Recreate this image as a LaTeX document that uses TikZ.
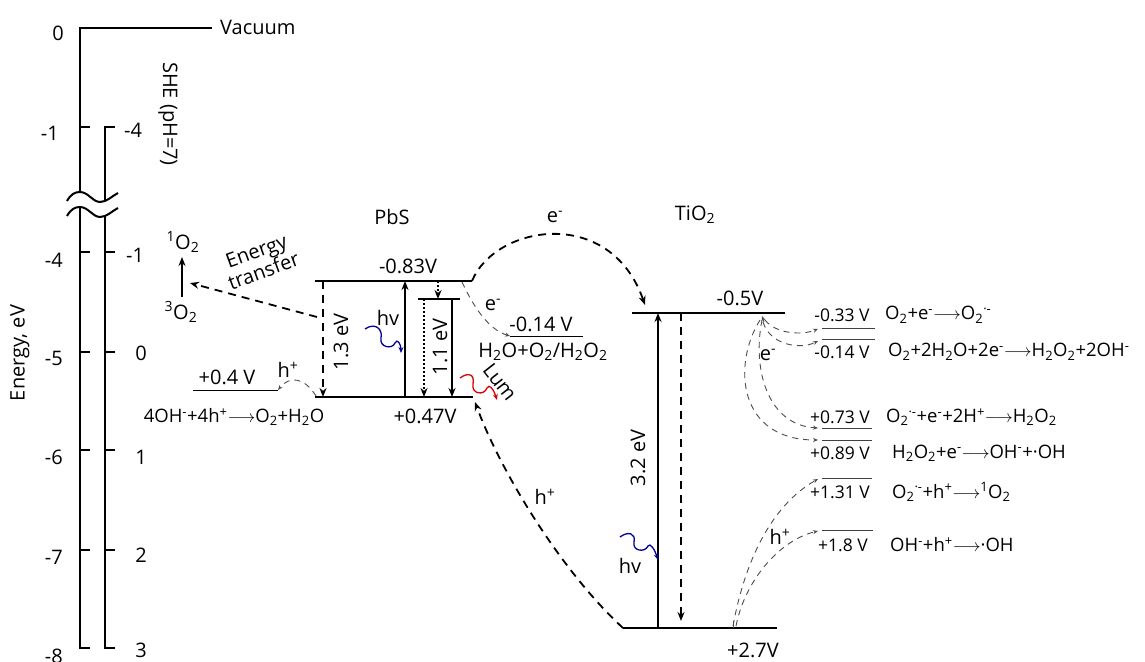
\documentclass[tikz,border=0pt]{standalone}
\usepackage{fontspec}
\setmainfont{Open Sans}
\usetikzlibrary{arrows.meta}
\newcommand{\sbs}[1]{\textsubscript{#1}}
\newcommand{\sps}[1]{\textsuperscript{#1}}
\newcommand{\rarr}{\ensuremath{\longrightarrow}}
\begin{document}
\begin{tikzpicture}[x=1pt,y=-1pt,
  every node/.style={inner sep=0pt, font=\fontsize{20}{20}\selectfont},
  small/.style={font=\fontsize{17.5}{18}\selectfont},
  rxn/.style={font=\fontsize{18.5}{19}\selectfont, anchor=west},
  axisln/.style={line width=2.6pt},
  brk/.style={line width=2pt},
  lvl/.style={line width=2pt},
  thinlvl/.style={line width=1pt, black!75},
  solidarr/.style={line width=1.8pt, -{Stealth[length=9pt,width=7pt]}},
  dasharr/.style={line width=1.8pt, dash pattern=on 8pt off 6pt, -{Stealth[length=9pt,width=7pt]}},
  dotarr/.style={line width=1.6pt, dash pattern=on 2pt off 2pt, -{Stealth[length=9pt,width=7pt]}},
  thindash/.style={line width=0.9pt, black!70, dash pattern=on 6pt off 5pt, -{Stealth[length=5pt,width=4pt]}},
  photon/.style={line width=1.3pt, -{Stealth[length=6pt,width=5pt]}},
]
\useasboundingbox (0,0) rectangle (1145,661);

% ---------------- axes ----------------
\draw[axisln] (212,28) -- (80,28) -- (80,192);
\draw[axisln] (115,127) -- (105,127) -- (105,201);
\draw[brk] (67,201) .. controls (71,194) and (75,192) .. (80,192) .. controls (88,192) and (93,202) .. (100,202) .. controls (107,202) and (112,196) .. (118,193);
\draw[brk] (67,216) .. controls (71,209) and (75,207) .. (80,207) .. controls (88,207) and (93,217) .. (100,217) .. controls (107,217) and (112,211) .. (118,208);
\draw[axisln] (80,207) -- (80,648) -- (90,648);
\draw[axisln] (105,216) -- (105,648) -- (115,648);
\foreach \yy in {127,252,352,450,550} \draw[axisln] (80,\yy) -- (90,\yy);
\foreach \yy in {252,352,450,550} \draw[axisln] (105,\yy) -- (115,\yy);

\node[anchor=west] (vac) at (220,27) {Vacuum};
\node[anchor=east] (l0) at (64,33) {0};
\node[anchor=east] (l1) at (59,133) {-1};
\node[anchor=east] (l4) at (63,260) {-4};
\node[anchor=east] (l5) at (63,358) {-5};
\node[anchor=east] (l6) at (63,457) {-6};
\node[anchor=east] (l7) at (63,557) {-7};
\node[anchor=east] (l8) at (63,656) {-8};
\node[anchor=west] (r4) at (124,130) {-4};
\node[anchor=west] (r1) at (126,255) {-1};
\node (r0) at (141,353) {0};
\node (rp1) at (141,457) {1};
\node (rp2) at (141,555) {2};
\node (rp3) at (141,650) {3};
\node[rotate=90] (elab) at (20,353) {Energy, eV};
\node[rotate=-90] (she) at (168,114) {SHE (pH=7)};

% ---------------- PbS ----------------
\node (pbs) at (392,217) {PbS};
\coordinate (pCBL) at (315,281); \coordinate (pCBR) at (472,281);
\coordinate (pVBL) at (315,397); \coordinate (pVBR) at (473,397);
\coordinate (pTL) at (418,299);  \coordinate (pTR) at (460,299);
\draw[lvl] (pCBL) -- (pCBR);
\draw[lvl] (pVBL) -- (pVBR);
\draw[lvl] (pTL) -- (pTR);
\node (v083) at (408,266) {-0.83V};
\node (v047) at (425,416) {+0.47V};

\coordinate (a13t) at (323,281); \coordinate (a13b) at (323,397);
\draw[dasharr] (a13t) -- (a13b);
\node[rotate=90] (e13) at (341,342) {1.3 eV};
\coordinate (hvb) at (405,397); \coordinate (hvt) at (405,281);
\draw[solidarr] (hvb) -- (hvt);
\node (hv1) at (388,318) {hv};
\draw[photon, blue!60!black] (365,329) .. controls (375,322) and (383,329) .. (381,338) .. controls (379,347) and (392,350) .. (395,343) .. controls (397,338) and (401,344) .. (401,353);
\coordinate (dt1) at (438,281); \coordinate (db1) at (438,299);
\draw[dotarr] (dt1) -- (db1);
\coordinate (dt2) at (424,299); \coordinate (db2) at (424,397);
\draw[dotarr] (dt2) -- (db2);
\node[rotate=90] (e11) at (440,347) {1.1 eV};
\coordinate (st2) at (452,299); \coordinate (sb2) at (452,397);
\draw[solidarr] (st2) -- (sb2);
\draw[photon, red!85!black] (460,378) .. controls (468,372) and (475,374) .. (473,384) .. controls (471,394) and (484,396) .. (487,388) .. controls (489,383) and (494,390) .. (497,400);
\node[rotate=-52] (lum) at (500,382) {Lum};

% energy transfer
\coordinate (etS) at (317,317); \coordinate (etE) at (190,283);
\draw[dasharr] (etS) -- (etE);
\node[rotate=20, align=center, font=\fontsize{20}{18}\selectfont] (etr) at (260,261) {Energy\\transfer};
\node (o1) at (183,242) {\sps{1}O\sbs{2}};
\node (o3) at (181,312) {\sps{3}O\sbs{2}};
\coordinate (o3t) at (182,297); \coordinate (o1b) at (182,257);
\draw[solidarr] (o3t) -- (o1b);

% left h+ (water oxidation)
\coordinate (p04L) at (193,390); \coordinate (p04R) at (278,390);
\draw[line width=1pt] (p04L) -- (p04R);
\node (v04) at (227,377) {+0.4 V};
\node (hp1) at (288,370) {h\sps{+}};
\draw[thindash] (316,396) .. controls (305,378) and (290,375) .. (p04R);
\node[font=\fontsize{18.5}{19}\selectfont] (rx1) at (234,417) {4OH\sps{-}+4h\sps{+}\rarr O\sbs{2}+H\sbs{2}O};

% right e- (PbS CB to -0.14 V)
\coordinate (p014L) at (510,336); \coordinate (p014R) at (583,336);
\draw[line width=1pt] (p014L) -- (p014R);
\draw[thindash] (462,282) .. controls (475,310) and (490,330) .. (p014L);
\node (em1) at (493,305) {e\sps{-}};
\node (v014) at (541,324) {-0.14 V};
\node (hoo) at (543,352) {H\sbs{2}O+O\sbs{2}/H\sbs{2}O\sbs{2}};

% ---------------- TiO2 ----------------
\node (tio) at (695,215) {TiO\sbs{2}};
\coordinate (tCBL) at (632,313); \coordinate (tCBR) at (785,313);
\coordinate (tVBL) at (623,628); \coordinate (tVBR) at (777,628);
\draw[lvl, line width=2.3pt] (tCBL) -- (tCBR);
\draw[lvl, line width=2.3pt] (tVBL) -- (tVBR);
\node (v05) at (740,298) {-0.5V};
\node (v27) at (753,650) {+2.7V};
\coordinate (tub) at (658,628); \coordinate (tut) at (658,313);
\draw[solidarr] (tub) -- (tut);
\coordinate (tdt) at (681,313); \coordinate (tdb) at (681,621);
\draw[dasharr] (tdt) -- (tdb);
\node[rotate=90] (e32) at (638,458) {3.2 eV};
\draw[photon, blue!60!black] (620,537) .. controls (628,531) and (636,533) .. (634,542) .. controls (632,551) and (645,553) .. (648,546) .. controls (650,542) and (655,550) .. (658,560);
\node (hv2) at (630,566) {hv};

% transfers between PbS and TiO2
\draw[dasharr] (pCBR) .. controls (495,225) and (610,205) .. (645,305);
\node (em2) at (555,217) {e\sps{-}};
\draw[dasharr] (tVBL) .. controls (560,570) and (500,470) .. (475,402);
\node (hp2) at (545,497) {h\sps{+}};

% ---------------- right-hand levels ----------------
\coordinate (r1L) at (822,328); \coordinate (r1R) at (875,328);
\coordinate (r2L) at (822,339); \coordinate (r2R) at (875,339);
\coordinate (r3L) at (822,428); \coordinate (r3R) at (872,428);
\coordinate (r4L) at (822,440); \coordinate (r4R) at (872,440);
\coordinate (r5L) at (822,478); \coordinate (r5R) at (872,478);
\coordinate (r6L) at (822,530); \coordinate (r6R) at (873,530);
\foreach \a/\b in {r1L/r1R,r2L/r2R,r3L/r3R,r4L/r4R,r5L/r5R,r6L/r6R} \draw[thinlvl] (\a) -- (\b);

\node[small] (w1) at (842,315) {-0.33 V};
\node[small] (w2) at (842,352) {-0.14 V};
\node[small] (w3) at (840,417) {+0.73 V};
\node[small] (w4) at (840,453) {+0.89 V};
\node[small] (w5) at (840,492) {+1.31 V};
\node[small] (w6) at (843,545) {+1.8 V};

\node[rxn] (x1) at (885,315) {O\sbs{2}+e\sps{-}\rarr O\sbs{2}\sps{·-}};
\node[rxn] (x2) at (888,352) {O\sbs{2}+2H\sbs{2}O+2e\sps{-}\rarr H\sbs{2}O\sbs{2}+2OH\sps{-}};
\node[rxn] (x3) at (886,417) {O\sbs{2}\sps{·-}+e\sps{-}+2H\sps{+}\rarr H\sbs{2}O\sbs{2}};
\node[rxn] (x4) at (892,453) {H\sbs{2}O\sbs{2}+e\sps{-}\rarr OH\sps{-}+·OH};
\node[rxn] (x5) at (892,492) {O\sbs{2}\sps{·-}+h\sps{+}\rarr\sps{1}O\sbs{2}};
\node[rxn] (x6) at (890,545) {OH\sps{-}+h\sps{+}\rarr ·OH};

% e- from TiO2 CB
\coordinate (tcbp) at (762,316);
\draw[thindash] (764,322) -- (tcbp);
\draw[thindash] (765,320) .. controls (775,333) and (800,336) .. (818,329);
\draw[thindash] (763,322) .. controls (770,345) and (800,350) .. (818,341);
\draw[thindash] (762,320) .. controls (752,370) and (768,425) .. (818,428);
\draw[thindash] (760,320) .. controls (732,365) and (738,440) .. (818,440);
\node (em3) at (768,355) {e\sps{-}};

% h+ from TiO2 VB
\coordinate (tvbp) at (733,628);
\draw[line width=0.9pt, black!70] (tvbp) -- (733,621);
\draw[thindash] (733,626) .. controls (745,560) and (772,505) .. (818,479);
\draw[thindash] (736,626) .. controls (745,580) and (780,540) .. (818,531);
\node (hp3) at (780,537) {h\sps{+}};
\end{tikzpicture}
\end{document}
